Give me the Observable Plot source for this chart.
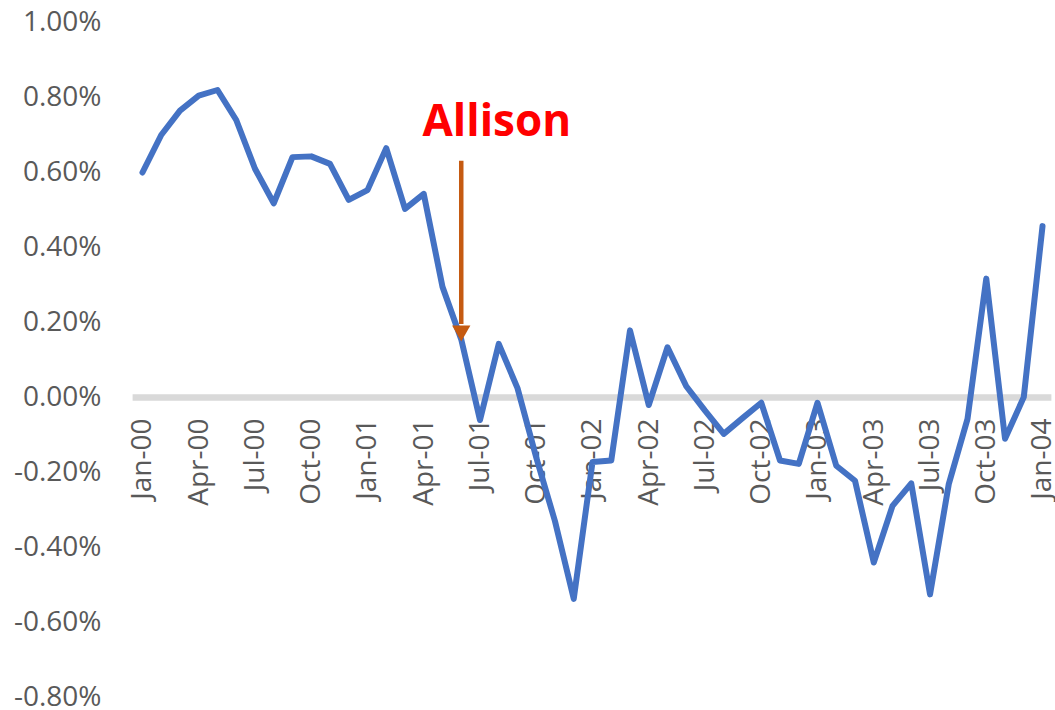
<!DOCTYPE html>
<html>
<head>
<meta charset="utf-8">
<script src="https://cdn.jsdelivr.net/npm/d3@7"></script>
<script src="https://cdn.jsdelivr.net/npm/@observablehq/plot@0.6"></script>
<style>
  html, body { margin: 0; padding: 0; background: #fff; }
  svg { overflow: visible; }
</style>
</head>
<body>
<div id="chart"></div>
<script>
const months = [
  "Jan-00","Feb-00","Mar-00","Apr-00","May-00","Jun-00","Jul-00","Aug-00","Sep-00","Oct-00","Nov-00","Dec-00",
  "Jan-01","Feb-01","Mar-01","Apr-01","May-01","Jun-01","Jul-01","Aug-01","Sep-01","Oct-01","Nov-01","Dec-01",
  "Jan-02","Feb-02","Mar-02","Apr-02","May-02","Jun-02","Jul-02","Aug-02","Sep-02","Oct-02","Nov-02","Dec-02",
  "Jan-03","Feb-03","Mar-03","Apr-03","May-03","Jun-03","Jul-03","Aug-03","Sep-03","Oct-03","Nov-03","Dec-03",
  "Jan-04"
];
const values = [
  0.600, 0.700, 0.765, 0.805, 0.820, 0.740, 0.610, 0.518, 0.641, 0.643, 0.623, 0.527,
  0.553, 0.665, 0.503, 0.543, 0.295, 0.155, -0.060, 0.143, 0.025, -0.160, -0.330, -0.537,
  -0.172, -0.168, 0.179, -0.020, 0.134, 0.030, -0.035, -0.097, -0.055, -0.014, -0.168, -0.177,
  -0.014, -0.182, -0.222, -0.440, -0.289, -0.229, -0.525, -0.231, -0.057, 0.317, -0.110, 0.001,
  0.457
];
const xTickLabels = ["Jan-00","Apr-00","Jul-00","Oct-00","Jan-01","Apr-01","Jul-01","Oct-01",
  "Jan-02","Apr-02","Jul-02","Oct-02","Jan-03","Apr-03","Jul-03","Oct-03","Jan-04"];
const yTicks = [-0.8, -0.6, -0.4, -0.2, 0, 0.2, 0.4, 0.6, 0.8, 1.0];
const annotationLabel = ["Allison"];
const annotationMonth = "Jun-01";
const annotationTextMonth = "Aug-01";
const annotationTextY = 0.735;
const arrowTop = 0.63;
const arrowTip = 0.15;

const font = "'Open Sans', 'Liberation Sans', sans-serif";

const chart = Plot.plot({
  width: 1055,
  height: 710,
  marginLeft: 132.6,
  marginRight: 3.6,
  marginTop: 22,
  marginBottom: 13,
  style: { fontFamily: font, fontSize: "28px", color: "#595959", background: "#fff" },
  x: { type: "point", domain: months, padding: 0.5, axis: null },
  y: {
    domain: [-0.8, 1.0],
    ticks: yTicks,
    tickSize: 0,
    tickPadding: 31.6,
    tickFormat: d => d.toFixed(2) + "%",
    label: null
  },
  marks: [
    Plot.ruleY([0], { stroke: "#D9D9D9", strokeWidth: 6.5 }),
    Plot.text(xTickLabels, {
      x: d => d, y: () => 0, text: d => d,
      rotate: -90, textAnchor: "end", dy: 21,
      fill: "#595959", fontSize: 28
    }),
    Plot.line(values, {
      x: (d, i) => months[i], y: d => d,
      stroke: "#4472C4", strokeWidth: 6, strokeLinejoin: "round", strokeLinecap: "round"
    }),
    Plot.ruleX([annotationMonth], {
      x: d => d, y1: arrowTop, y2: arrowTip + 0.045,
      stroke: "#C55A11", strokeWidth: 4.5
    }),
    Plot.dot([annotationMonth], {
      x: d => d, y: () => arrowTip, symbol: "triangle", rotate: 180, r: 6.8, dy: -10.4,
      fill: "#C55A11", stroke: "none"
    }),
    Plot.text(annotationLabel, {
      x: () => annotationTextMonth, y: () => annotationTextY, text: d => d,
      fill: "#FF0000", fontSize: 44, fontWeight: "bold", dx: -2
    })
  ]
});
document.getElementById("chart").appendChild(chart);
</script>
</body>
</html>
